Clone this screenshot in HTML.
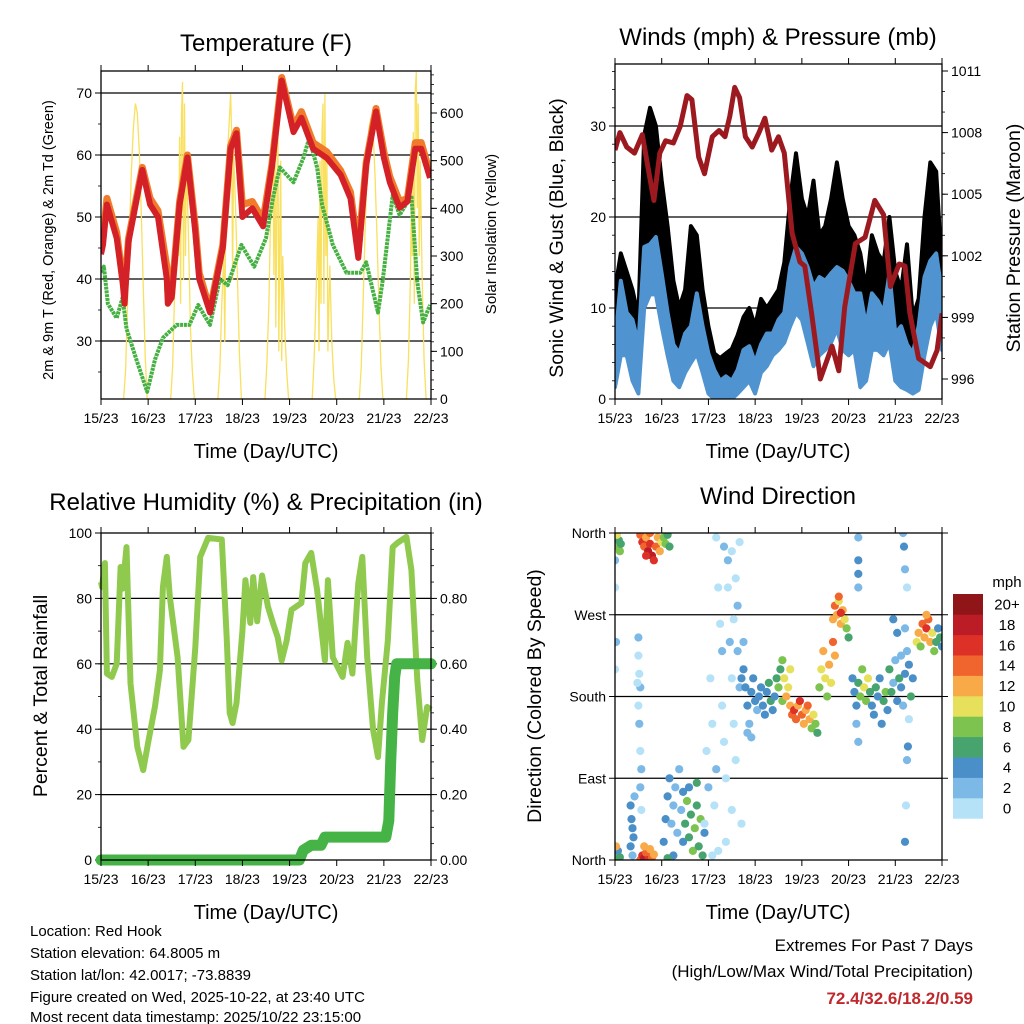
<!DOCTYPE html>
<html><head><meta charset="utf-8"><title>Red Hook station chart</title>
<style>
html,body{margin:0;padding:0;background:#fff;}
svg{display:block;font-family:"Liberation Sans",Arial,sans-serif;}
</style></head>
<body>
<svg id="chart" width="1024" height="1024" viewBox="0 0 1024 1024" xmlns="http://www.w3.org/2000/svg">
<rect x="0" y="0" width="1024" height="1024" fill="#fff"/>
<text x="266" y="51" font-size="24" text-anchor="middle">Temperature (F)</text>
<text x="778" y="45" font-size="24" text-anchor="middle">Winds (mph) &amp; Pressure (mb)</text>
<text x="266" y="510" font-size="24" text-anchor="middle">Relative Humidity (%) &amp; Precipitation (in)</text>
<text x="778" y="504" font-size="24" text-anchor="middle">Wind Direction</text>
<text x="266" y="458" font-size="20" text-anchor="middle">Time (Day/UTC)</text>
<text x="778" y="458" font-size="20" text-anchor="middle">Time (Day/UTC)</text>
<text x="266" y="919" font-size="20" text-anchor="middle">Time (Day/UTC)</text>
<text x="778" y="919" font-size="20" text-anchor="middle">Time (Day/UTC)</text>
<text transform="translate(53,240) rotate(-90)" font-size="14.5" text-anchor="middle">2m &amp; 9m T (Red, Orange) &amp; 2m Td (Green)</text>
<text transform="translate(496,234) rotate(-90)" font-size="15" text-anchor="middle">Solar Insolation (Yellow)</text>
<text transform="translate(563,238) rotate(-90)" font-size="19.5" text-anchor="middle">Sonic Wind &amp; Gust (Blue, Black)</text>
<text transform="translate(1020,238) rotate(-90)" font-size="19.5" text-anchor="middle">Station Pressure (Maroon)</text>
<text transform="translate(47,696) rotate(-90)" font-size="19.5" text-anchor="middle">Percent &amp; Total Rainfall</text>
<text transform="translate(541,696) rotate(-90)" font-size="19.5" text-anchor="middle">Direction (Colored By Speed)</text>
<text x="1007" y="587" font-size="15" text-anchor="middle">mph</text>
<g font-size="15">
<text x="30" y="936">Location: Red Hook</text>
<text x="30" y="958">Station elevation: 64.8005 m</text>
<text x="30" y="980">Station lat/lon: 42.0017; -73.8839</text>
<text x="30" y="1002">Figure created on Wed, 2025-10-22, at 23:40 UTC</text>
<text x="30" y="1024" dy="-2">Most recent data timestamp: 2025/10/22 23:15:00</text>
</g>
<text x="973" y="951" font-size="17" text-anchor="end">Extremes For Past 7 Days</text>
<text x="973" y="977" font-size="17" text-anchor="end">(High/Low/Max Wind/Total Precipitation)</text>
<text x="973" y="1004" font-size="17" font-weight="bold" fill="#c0282d" text-anchor="end">72.4/32.6/18.2/0.59</text>
</svg>
<script>
// ---------- DATA ----------
const dayLabels = ["15/23","16/23","17/23","18/23","19/23","20/23","21/23","22/23"];
const tempHours = [0,1,3,8,11,12,14,21,25,29,33.5,34,36,40,44,48,50,55.5,62,66,69,72,77,82.5,87,92,98,102,108,115,122,127,131,135,140,144,147,152,156,160,163,167.5];
const temp2m = [44,45.5,52,46.6,39.5,36,46,57.6,52,50,40,36,37,52,59.6,47.6,40,34.6,45,61,63.5,50,51.4,48.5,58,72,63.7,66,61,59.5,56.8,53,43.4,58.4,67,59.5,55.6,51.5,52.5,61,61,56.3];
const temp9m = [45,46.5,53,47.5,40,38,46.5,58,53,51,42,38,37.5,52.5,60,48.5,41,35,45.5,61.5,64,52,52.5,49.5,58.5,72.5,64.5,67,62,60.5,57.5,54,44.5,58.8,67.5,60.5,56.5,52.5,53,62,62,57];
const dewHours = [0.5,1.5,3.5,8,11,13,18,23.5,27.5,31.5,38.5,45,49.5,55.5,60.5,64.5,71.5,78,84,87.5,91,98,103,106,110,112.5,118,125,132,135,141,143.5,148.5,152,158,161,164,167.5];
const dewPoint = [41,42,36,33.7,37,32,27,21.8,27,30.5,32.6,32.6,35.8,32.6,40,39,45.5,42,46.6,53,58,55.6,59.5,62.7,58,52,45.5,41,41,42.7,34.6,40,53.5,50.3,53.5,39.5,33,35.8];
const solarHours = [
 11.5,12.5,13.5,14.5,15.5,16.5,17.5,18.5,19.5,20.5,21.5,22.5,23.5,
 35.5,36.5,37.5,38.5,39.5,40,40.5,41,41.5,42,42.5,43,43.5,44.5,45.5,46.5,47.5,
 59.5,60.5,61.5,62.5,63,63.5,64.5,65.5,66,66.5,67,67.5,68.5,69.5,70.5,71.5,
 83.5,84.5,85.5,86.5,87.5,88,88.5,89,89.5,90,90.5,91,91.5,92,92.5,93.5,94.5,95.5,
 107.5,108.5,109.5,110.5,111,111.5,112,112.5,113,113.5,114,114.5,115,115.5,116.5,117.5,118.5,119.5,
 131.5,132.5,133.5,134.5,135.5,136.5,137.5,138.5,139.5,140.5,141.5,142.5,143.5,
 155.5,156.5,157.5,158,158.5,159,159.5,160,160.5,161,161.5,162,162.5,163.5,164.5,165.5];
const solarValues = [
 0,60,200,350,480,570,620,600,520,390,240,90,0,
 0,70,230,400,300,550,200,600,665,250,620,300,500,350,150,60,0,
 0,60,200,300,120,380,520,600,640,560,250,520,400,250,90,0,
 0,80,200,420,530,260,580,150,400,640,100,350,500,80,300,150,60,0,
 0,80,220,380,100,500,200,560,620,200,640,300,500,100,280,120,40,0,
 0,70,210,360,490,570,590,560,470,340,200,70,0,
 0,80,250,420,300,560,200,650,686,400,620,300,500,250,80,0];
const pressHours = [0,2.5,6,10,14,17.5,20,23,26,30,33.5,37,39.5,43,46,50,53.5,56.5,59,61.5,64,67,70.5,74,77,80.5,84,87,91,95,97.5,101,105.5,111.5,115,118,123.5,128.5,133.5,138,141.5,146,149,151.5,156,162,165.5,168];
const pressValues = [1007.15,1008,1007.3,1007,1007.9,1006,1004.7,1007,1007.6,1007.5,1008.3,1009.8,1009.6,1006.8,1006,1007.8,1008.1,1007.8,1008.8,1010.2,1009.7,1007.8,1007.3,1008,1008.7,1007.15,1007.8,1007,1003.1,1001.7,1001.5,999.2,996,997.6,996.4,999.5,1002.6,1002.9,1004.7,1004,1000.5,1001.6,1001.5,999.2,997,996.6,997.4,999.2];
const windHours = [0,3,6,9,12,15,18,21,24,27,30,33,36,39,42,45,48,51,54,57,60,63,66,69,72,75,78,81,84,87,90,93,96,99,102,105,108,111,114,117,120,123,126,129,132,135,138,141,144,147,150,153,156,159,162,165,168];
const windLow = [1.3,4.8,4.8,2,0.6,10,11.5,11.5,8,4.8,2,1.3,2.9,4,5,2.9,0.6,0,0,0,0,0.6,1.3,2,0.6,2.9,3.6,4.8,5.4,6.2,8,9.5,8.7,6.2,3.6,4.8,5.4,6.2,7.7,5.4,4.8,5.4,1.3,2,5.4,5.4,4.8,6.2,2,1.3,1,0.6,1,4.8,8,9.5,5.4];
const windHigh = [6,13,9.5,8.7,6,16.7,17,17.8,13.8,9.5,6,5,7.2,8,11.6,8,5,3.2,2,2.5,2,3.2,5.4,5.8,4,6,7.2,7.2,8.7,9.5,14.5,16.7,16,14.5,12.3,13.4,13,13.8,14.5,14.1,13,11.6,11.6,8,11.6,10.8,9.5,13.8,7.2,8,6,5,8,13.4,15.2,16,11.6];
const gustLow = [2,6,6,3,1,13,15,15,10,7,4,2,4,7,7,4,2,1,0.5,0.5,1,2,3,4,2,4,5,6,7,9,12,13,12,10,9,9,10,11,12,10,9,9,6,4,8,8,8,9,4,3,3,2,3,8,12,12,7];
const gustHigh = [12,16,14,12,9,29,32,30,24,19,13,10,12,19,18,12,8,5,4.5,5,5.5,7,9,10,8,11,10,11,12,15,22,27,22,20,24,18,19,22,26,22,19,18,16,12,18,16,15,20,14,12,17,9,11,20,26,25,14];
const rhHours = [0,0.5,2,3,5.5,8,10,11,13,15,18.5,21.5,24,27.5,30,31.5,33.5,35,39,42,44.5,48,50.5,54.5,61.5,64,65.5,67,69,72,73.5,76,77.5,79.5,82,85,87.5,90,92,94.5,97,102,104,107,110,114,115.5,118,123,125.5,128,131,133,135.5,138.5,141,143,146,148.5,151,155.5,158,161,163.5,166,168];
const rhValues = [85,83.5,90.8,57,56,60,89.6,83,95.7,54,34.6,27.5,35.8,47,58,83.5,92.7,80.5,62,34.6,36.7,65,92.7,98.5,98,68,45,41.9,48,70,85.6,72.5,86.5,73,87,77.4,72.5,68,61,67,76.5,78.6,90.8,93.9,82.6,61,85.6,62,56,66.4,57,84.7,92.7,62,39.8,31.5,48,67,95.7,97,98.8,88.7,55,36.7,46.8,46];
const precipHours = [0,101,103,107,112,114,145,146.5,147.5,148.5,149.5,150.5,168];
const precipValues = [0,0,0.03,0.045,0.045,0.07,0.07,0.12,0.3,0.45,0.56,0.6,0.6];
const dirHours = [
 0.3,0.8,1.5,2,2.5,1,3, 0.3,1,1.5,2.5,0.5, 0,0,0.5,0,
 8,8.5,9,9.5,10,8,9, 12,12,12.5,13,12.5,13,13.5,13,13.5,12,11.5,
 13,14,15,16,17,18,19,20,21,22,23,24,25,26,27,28,18,16,
 13,14,15,16,17,18,19,20,15,
 25,26,27,28,29,30,31,32,33,34,35,36,37,38,39,40,41,42,43,44,45,46,38,30,27,35,42,
 46,47,48,49,50,51,52,53,54,55,56,57,58,59,60,61,62,63,64,65,57,60,62,55,50,53,58,61,63,64,65,52,56,60,
 66,67,68,69,70,71,72,73,74,75,76,77,78,79,80,81,82,83,84,85,86,66,68,70,
 87,88,89,90,91,92,93,94,95,96,97,98,99,100,101,102,103,104,90,86,
 105,106,107,108,109,110,111,112,113,
 112,113,114,115,116,117,118,119,120,115,116,
 122,123,124,125,126,127,128,129,130,131,132,133,134,135,136,137,138,139,140,124,125,
 141,142,143,144,145,146,147,148,149,150,151,152,153,
 148,148.5,149,150,149,150,150.5,149,149.5,151,
 125,125,125,125,
 155,156,157,158,159,160,161,162,163,164,165,166,167,168,160,
 143,145,147];
const dirDegrees = [
 355,350,345,352,340,358,348, 5,2,10,3,15, 330,300,240,210,
 60,45,35,25,70,15,5, 245,225,205,190,150,120,100,80,55,170,195,
 358,350,345,355,340,348,335,330,345,355,340,350,355,348,358,345,360,335,
 0,5,2,8,0,12,3,6,15,
 20,45,70,90,40,60,80,30,100,55,20,40,65,25,50,10,35,60,15,45,5,30,80,5,2,75,85,
 40,120,80,200,150,60,100,300,260,170,130,90,330,240,200,150,310,280,350,40,20,55,110,230,5,10,300,265,230,190,200,355,345,340,
 210,190,170,150,185,200,175,165,180,190,170,160,185,195,175,165,180,200,190,210,175,240,140,135,
 200,180,190,170,160,165,155,170,175,160,150,165,170,155,145,160,150,140,210,220,
 190,210,230,200,180,215,195,240,225,
 265,280,270,285,260,275,265,255,245,290,272,
 200,185,170,195,180,210,190,175,200,185,170,160,190,180,200,150,175,185,165,150,130,
 210,185,195,220,175,200,190,170,205,230,215,180,200,
 360,345,320,300,255,110,125,20,60,155,
 355,330,300,315,
 240,250,235,260,245,255,265,240,250,230,240,255,245,235,270,
 265,250,225];
const dirSpeeds = [
 6,8,8,6,8,10,6, 6,8,4,6,12, 2,1,2,1,
 4,4,4,4,3,4,3, 2,1,1,2,2,1,2,2,1,1,1,
 14,16,14,12,18,16,18,16,14,12,12,10,8,8,6,6,14,16,
 14,16,18,14,16,12,14,12,12,
 4,4,4,4,2,2,2,2,2,2,4,6,8,6,6,8,8,6,6,8,6,4,4,4,6,4,6,
 1,1,2,1,1,0,2,1,1,1,1,0,2,2,1,1,1,2,1,1,1,1,1,2,1,1,1,1,2,2,4,1,2,1,
 4,4,4,2,4,4,4,2,4,4,4,4,4,6,6,4,4,6,8,6,8,2,2,2,
 10,12,10,12,14,16,14,12,16,14,12,12,14,12,8,10,8,6,10,8,
 8,10,12,10,8,12,10,14,12,
 12,14,12,10,12,12,10,8,6,14,16,
 4,4,4,6,8,8,10,8,10,6,4,4,6,4,4,4,6,8,4,2,2,
 6,6,2,2,4,6,4,2,4,2,4,6,4,
 2,4,2,1,2,2,4,4,1,1,
 2,4,2,4,
 10,12,8,14,12,16,14,12,10,8,6,4,6,4,12,
 4,4,2];
const speedLabels = ["0","2","4","6","8","10","12","14","16","18","20+"];
const speedColors = ["#b6e2f8","#7cb9e6","#4a8fc8","#47a46e","#7dc34f","#e7e05b","#f8aa48","#f0652d","#dd3128","#bb1c25","#8f1519"];
const tempTicks = [30,40,50,60,70];
const solarTicks = [0,100,200,300,400,500,600];
const windTicks = [0,10,20,30];
const pressTicks = [996,999,1002,1005,1008,1011];
const rhTicks = [0,20,40,60,80,100];
const precipTicks = [0,0.2,0.4,0.6,0.8];
const dirTicks = [0,90,180,270,360];
const dirTickLabels = ["North","East","South","West","North"];

// ---------- HELPERS ----------
const NS = "http://www.w3.org/2000/svg";
const svg = document.getElementById("chart");
function mk(tag, attrs, parent) {
  const e = document.createElementNS(NS, tag);
  for (const k in attrs) e.setAttribute(k, attrs[k]);
  (parent || svg).appendChild(e);
  return e;
}
function linear(d0, d1, r0, r1) { return v => r0 + (v - d0) * (r1 - r0) / (d1 - d0); }
function pts(xs, ys, fx, fy) { return xs.map((h, i) => fx(h).toFixed(1) + "," + fy(ys[i]).toFixed(1)).join(" "); }

const panels = {
  temp: {x0:101, x1:431, y0:71, y1:399},
  wind: {x0:615, x1:942, y0:64, y1:399},
  rh:   {x0:101, x1:431, y0:533, y1:860},
  dir:  {x0:615, x1:942, y0:533, y1:860}
};
for (const k in panels) { const p = panels[k]; p.x = linear(0, 168, p.x0, p.x1); }
const yTemp = linear(40, 50, 279, 217);
const ySolar = linear(0, 600, 399, 113);
const yWind = linear(0, 30, 399, 126);
const yPress = linear(996, 1011, 379, 71);
const yRH = linear(0, 100, 860, 533);
const yPrecip = linear(0, 0.8, 860, 598.4);
const yDir = linear(0, 360, 860, 533);

function clipFor(p, id) {
  const cp = mk("clipPath", {id: id});
  mk("rect", {x: p.x0, y: p.y0, width: p.x1 - p.x0, height: p.y1 - p.y0}, cp);
  return "url(#" + id + ")";
}

function xAxis(p, name) {
  const g = mk("g", {});
  
  
  dayLabels.forEach((lab, i) => {
    const x = p.x(i * 24);
    const t1 = mk("line", {x1: x, x2: x, y1: p.y1, y2: p.y1 + 6, stroke: "#000", "stroke-width": 1}, g);
    
    
    const t2 = mk("line", {x1: x, x2: x, y1: p.y0, y2: p.y0 - 6, stroke: "#000", "stroke-width": 1}, g);
    
    
    const tx = mk("text", {x: x, y: p.y1 + 24, "font-size": 14, "text-anchor": "middle"}, g);
    tx.textContent = lab;
    
    
  });
}

function yAxis(p, ticks, labels, scale, side, minorStep, gridOn, name) {
  const g = mk("g", {});
  
  
  const xe = side === "left" ? p.x0 : p.x1;
  const dir = side === "left" ? -1 : 1;
  ticks.forEach((v, i) => {
    const y = scale(v);
    const tk = mk("line", {x1: xe, x2: xe + dir * 6, y1: y, y2: y, stroke: "#000", "stroke-width": 1}, g);
    
    
    if (labels) {
      const tx = mk("text", {x: xe + dir * 9, y: y + 5, "font-size": 14, "text-anchor": side === "left" ? "end" : "start"}, g);
      tx.textContent = labels[i];
      
      
    }
    if (gridOn && y > p.y0 + 1 && y < p.y1 - 1) {
      const gl = mk("line", {x1: p.x0, x2: p.x1, y1: y, y2: y, stroke: "#000", "stroke-width": 1.2}, g);
      
      
    }
  });
  if (minorStep) {
    const lo = scale.invert0, hi = scale.invert1;
    for (let v = lo; v <= hi + 1e-9; v += minorStep) {
      const y = scale(v);
      if (y < p.y0 - 0.5 || y > p.y1 + 0.5) continue;
      const mt = mk("line", {x1: xe, x2: xe + dir * 3, y1: y, y2: y, stroke: "#000", "stroke-width": 0.8}, g);
      
      
    }
  }
}
function frame(p, name) {
  const r = mk("rect", {x: p.x0, y: p.y0, width: p.x1 - p.x0, height: p.y1 - p.y0, fill: "none", stroke: "#000", "stroke-width": 1.3});
  
  
}
yTemp.invert0 = 20; yTemp.invert1 = 75;
ySolar.invert0 = 0; ySolar.invert1 = 700;
yWind.invert0 = 0; yWind.invert1 = 37;
yPress.invert0 = 995; yPress.invert1 = 1012;
yRH.invert0 = 0; yRH.invert1 = 100;
yPrecip.invert0 = 0; yPrecip.invert1 = 1;
yDir.invert0 = 0; yDir.invert1 = 360;

// ---------- PANEL 1: TEMPERATURE ----------
(function(){
  const p = panels.temp;
  yAxis(p, tempTicks, tempTicks.map(String), yTemp, "left", 5, true, "temperature-y-axis");
  yAxis(p, solarTicks, solarTicks.map(String), ySolar, "right", 20, false, "solar-y-axis");
  const clip = clipFor(p, "clipTemp");
  const sol = mk("polyline", {points: pts(solarHours, solarValues, p.x, ySolar), fill: "none", stroke: "#f9e05e", "stroke-width": 1.3, "clip-path": clip});
  
  
  const dew = mk("polyline", {points: pts(dewHours, dewPoint, p.x, yTemp), fill: "none", stroke: "#46b043", "stroke-width": 4, "stroke-dasharray": "3 0.8", "stroke-linejoin": "round", "clip-path": clip});
  
  
  const t9 = mk("polyline", {points: pts(tempHours, temp9m, p.x, yTemp), fill: "none", stroke: "#f07b2a", "stroke-width": 7, "stroke-linejoin": "round", "clip-path": clip});
  
  
  const t2 = mk("polyline", {points: pts(tempHours, temp2m, p.x, yTemp), fill: "none", stroke: "#d42027", "stroke-width": 6, "stroke-linejoin": "round", "clip-path": clip});
  
  
  xAxis(p, "temperature");
  frame(p, "temperature");
})();

// ---------- PANEL 2: WINDS ----------
(function(){
  const p = panels.wind;
  yAxis(p, windTicks, windTicks.map(String), yWind, "left", 2, true, "wind-y-axis");
  yAxis(p, pressTicks, pressTicks.map(String), yPress, "right", 1, false, "pressure-y-axis");
  const clip = clipFor(p, "clipWind");
  const band = (hours, lo, hi) => {
    const up = hours.map((h, i) => p.x(h).toFixed(1) + "," + yWind(hi[i]).toFixed(1));
    const dn = hours.map((h, i) => p.x(h).toFixed(1) + "," + yWind(lo[i]).toFixed(1)).reverse();
    return up.concat(dn).join(" ");
  };
  const gb = mk("polygon", {points: band(windHours, gustLow, gustHigh), fill: "#000", stroke: "#000", "stroke-width": 4, "stroke-linejoin": "round", "clip-path": clip});
  
  
  const wb = mk("polygon", {points: band(windHours, windLow, windHigh), fill: "#4f94d0", stroke: "#4f94d0", "stroke-width": 4, "stroke-linejoin": "round", "clip-path": clip});
  
  
  const pr = mk("polyline", {points: pts(pressHours, pressValues, p.x, yPress), fill: "none", stroke: "#9c1a1f", "stroke-width": 5, "stroke-linejoin": "round", "clip-path": clip});
  
  
  xAxis(p, "winds");
  frame(p, "winds");
})();

// ---------- PANEL 3: RH & PRECIP ----------
(function(){
  const p = panels.rh;
  yAxis(p, rhTicks, rhTicks.map(String), yRH, "left", 10, true, "humidity-y-axis");
  yAxis(p, precipTicks, precipTicks.map(v => v.toFixed(2)), yPrecip, "right", 0.05, false, "precip-y-axis");
  const rh = mk("polyline", {points: pts(rhHours, rhValues, p.x, yRH), fill: "none", stroke: "#8fca4f", "stroke-width": 6, "stroke-linejoin": "round"});
  
  
  const pc = mk("polyline", {points: pts(precipHours, precipValues, p.x, yPrecip), fill: "none", stroke: "#46b346", "stroke-width": 11, "stroke-linejoin": "round", "stroke-linecap": "round"});
  
  
  xAxis(p, "humidity");
  frame(p, "humidity");
})();

// ---------- PANEL 4: WIND DIRECTION ----------
(function(){
  const p = panels.dir;
  yAxis(p, dirTicks, dirTickLabels, yDir, "left", 0, true, "direction-y-axis");
  yAxis(p, dirTicks, null, yDir, "right", 0, false, "direction-right-axis");
  const clip = clipFor(p, "clipDir");
  const g = mk("g", {"clip-path": clip});
  
  
  dirHours.forEach((h, i) => {
    const idx = Math.min(10, Math.floor(dirSpeeds[i] / 2));
    const c = mk("circle", {cx: p.x(h).toFixed(1), cy: yDir(dirDegrees[i]).toFixed(1), r: 4.1, fill: speedColors[idx]}, g);
    
    
  });
  xAxis(p, "wind-direction");
  frame(p, "wind-direction");
  // legend
  const lg = mk("g", {});
  
  
  const n = speedLabels.length, top = 594, bh = 20.4;
  speedLabels.forEach((lab, i) => {
    const k = n - 1 - i;
    const r = mk("rect", {x: 953, y: (top + k * bh).toFixed(1), width: 30, height: (bh + 0.3).toFixed(1), fill: speedColors[i]}, lg);
    
    
    const t = mk("text", {x: 1007, y: (top + k * bh + 15.5).toFixed(1), "font-size": 15, "text-anchor": "middle"}, lg);
    t.textContent = lab;
    
    
  });
})();
</script>
</body></html>
